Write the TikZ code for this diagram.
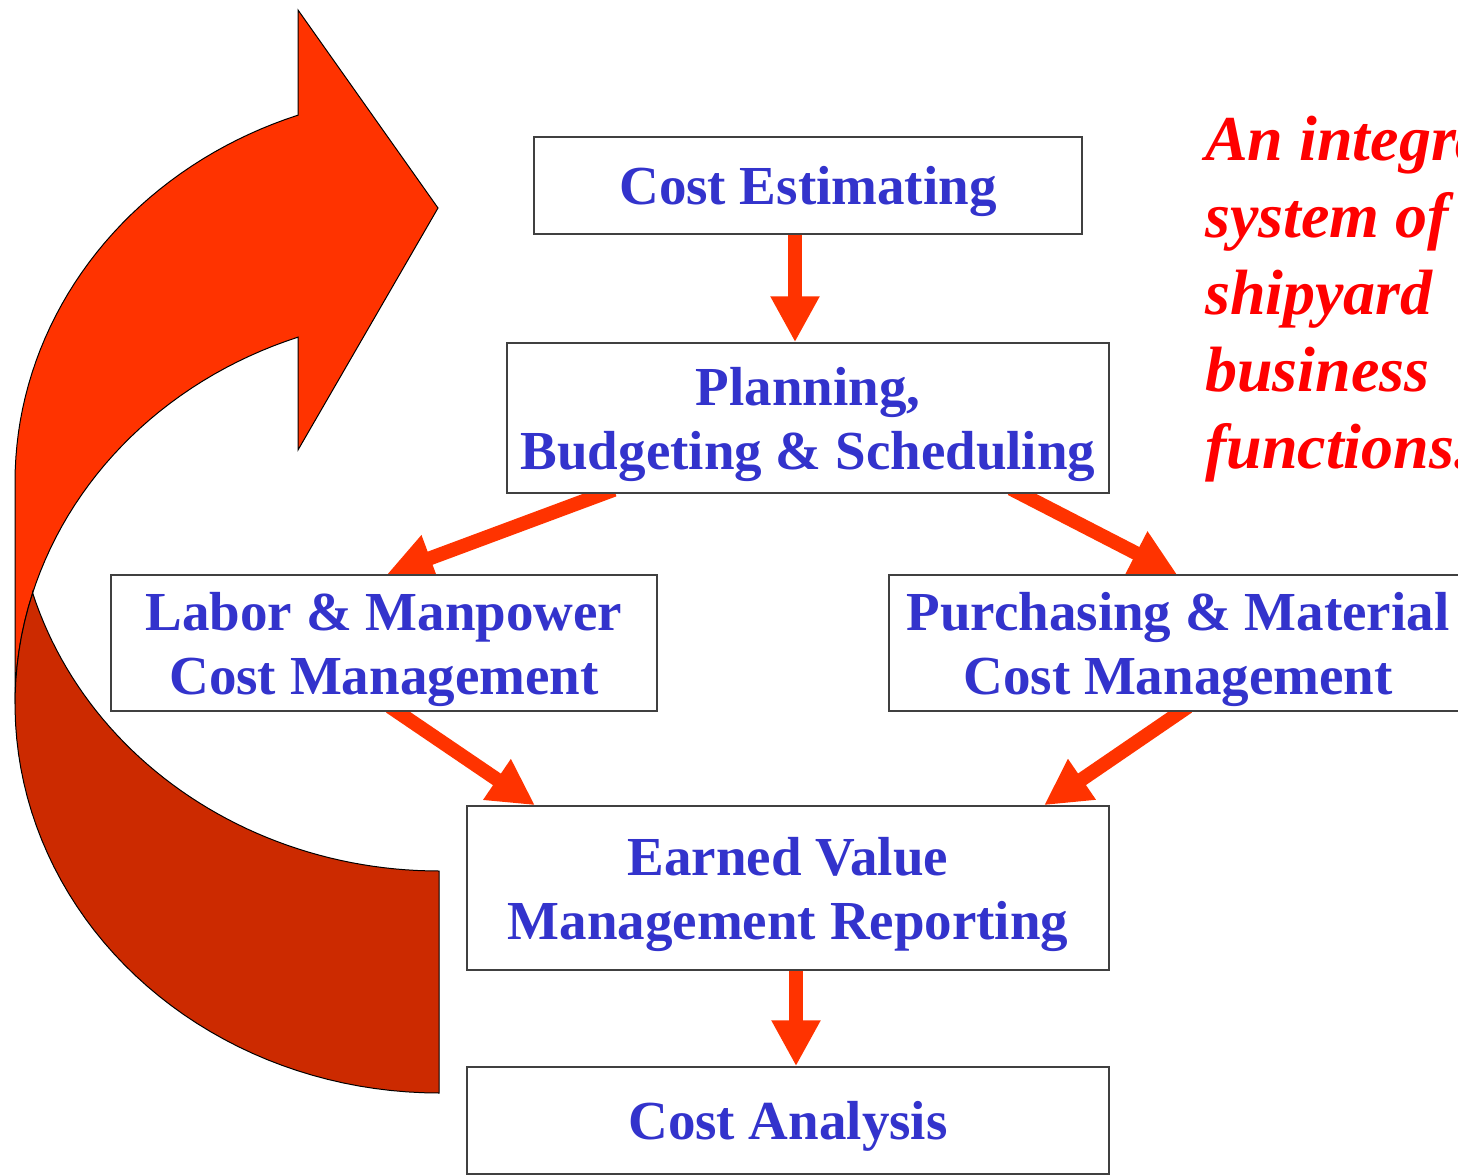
\documentclass[tikz,border=0pt]{standalone}
\usepackage{fontspec}
\setmainfont{Liberation Serif}
\usetikzlibrary{calc,arrows.meta,backgrounds}

\definecolor{boxblue}{HTML}{3333CC}
\definecolor{arrowred}{HTML}{FF3300}
\definecolor{frontred}{HTML}{FF3300}
\definecolor{backred}{HTML}{CC2A00}
\definecolor{notered}{HTML}{FF0000}

\tikzset{
	stagebox/.style={draw=black!75, line width=1.5pt, fill=white, align=center,
		text=boxblue, inner sep=0pt, text depth=0pt,
		font=\bfseries\fontsize{55}{64}\selectfont},
	flowarrow/.style={draw=arrowred, line width=14pt,
		-{Triangle[length=46pt,width=46pt]}},
	note/.style={anchor=north west, align=left, inner sep=0pt, text=notered,
		font=\bfseries\itshape\fontsize{64}{77}\selectfont},
}

\begin{document}
\begin{tikzpicture}[x=1pt, y=-1pt]

% parameters %{{{2

	\def\cx{439}
	\def\rx{424}
	\def\ry{389}
	\def\ylow{704}
	\def\yhigh{482}
	\def\headang{250.58}
	\def\crossang{16.58}

% frame %{{{2

	\useasboundingbox (0,0) rectangle (1458,1175);
	\clip (0,0) rectangle (1458,1175);

% curved arrow, front %{{{2

	\filldraw[fill=frontred, draw=black, line width=1pt]
		plot[domain=180:\headang, samples=40] ({\cx+\rx*cos(\x)},{\ylow+\ry*sin(\x)})
		-- (298,450) -- (438,208) -- (298,10) --
		plot[domain=\headang:180, samples=40] ({\cx+\rx*cos(\x)},{\yhigh+\ry*sin(\x)})
		-- cycle;

% curved arrow, back %{{{2

	\filldraw[fill=backred, draw=black, line width=1pt]
		plot[domain=90:180+\crossang, samples=50] ({\cx+\rx*cos(\x)},{\ylow+\ry*sin(\x)})
		-- plot[domain=180-\crossang:90, samples=50] ({\cx+\rx*cos(\x)},{\yhigh+\ry*sin(\x)})
		-- cycle;

% boxes %{{{2

	\node[stagebox, minimum width=548pt, minimum height=97pt] (est) at (808,185.5)
		{Cost Estimating};
	\node[stagebox, minimum width=602pt, minimum height=150pt] (plan) at (808,418)
		{Planning,\\Budgeting \& Scheduling};
	\node[stagebox, minimum width=546pt, minimum height=136pt] (labor) at (384,643)
		{Labor \& Manpower\\Cost Management};
	\node[stagebox, minimum width=578pt, minimum height=136pt] (purch) at (1178,643)
		{Purchasing \& Material\\Cost Management};
	\node[stagebox, minimum width=642pt, minimum height=164pt] (ev) at (788,888)
		{Earned Value\\Management Reporting};
	\node[stagebox, minimum width=642pt, minimum height=107pt] (ana) at (788,1120.5)
		{Cost Analysis};

% note %{{{2

	\node[note] (txt) at (1205,116)
		{An integrated\\system of\\shipyard\\business\\functions.};

% arrows %{{{2

	\begin{scope}[on background layer]
		\draw[flowarrow] ([xshift=-13pt]est.south) -- ([xshift=-13pt]plan.north);
		\draw[flowarrow] ($(plan.south)+(-194,-4)$) -- ($(labor.north)+(3,0)$);
		\draw[flowarrow] ($(plan.south)+(203,-5)$) -- ($(purch.north)+(-1,0)$);
		\draw[flowarrow] ($(labor.south)+(6,-5)$) -- ($(ev.north)+(-253,0)$);
		\draw[flowarrow] ($(purch.south)+(10,-5)$) -- ($(ev.north)+(256,0)$);
		\draw[flowarrow] ([xshift=8pt]ev.south) -- ([xshift=8pt]ana.north);
	\end{scope}

% closing %{{{2

\end{tikzpicture}
\end{document}
